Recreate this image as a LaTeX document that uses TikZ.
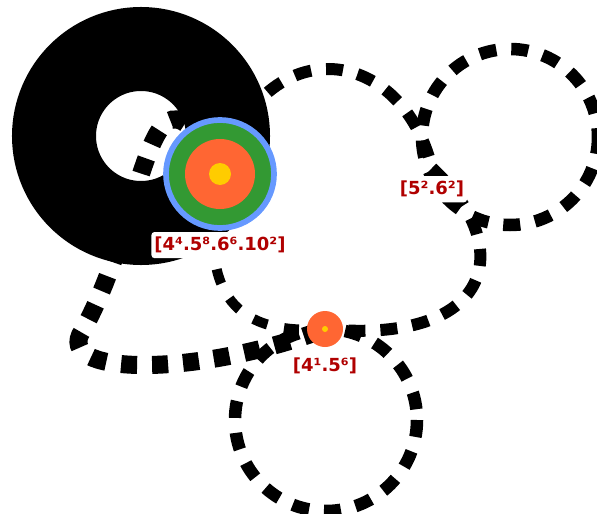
\documentclass[tikz,border=0pt]{standalone}
\usepackage{fontspec}
\newfontfamily\labelfont{DejaVu Sans}
\usetikzlibrary{positioning, backgrounds}

\definecolor{ringblue}{RGB}{102,153,255}
\definecolor{leafgreen}{RGB}{51,153,51}
\definecolor{hotorange}{RGB}{255,102,51}
\definecolor{sunyellow}{RGB}{255,204,0}
\definecolor{labelred}{RGB}{176,0,0}

\begin{document}
\begin{tikzpicture}[
  x=1pt, y=-1pt,
  edgeline/.style={line width=12pt, dash pattern=on 17pt off 15pt},
  thinedge/.style={line width=10pt, dash pattern=on 15pt off 17pt},
  thickedge/.style={line width=18pt, dash pattern=on 16pt off 15pt},
  loopline/.style={line width=12.5pt, dash pattern=on 17pt off 15pt},
  vertex/.style={circle, inner sep=0pt},
  vlabel/.style={fill=white, rounded corners=3pt, text=labelred, inner xsep=3pt, inner ysep=5pt,
    font=\labelfont\bfseries\fontsize{18}{21}\selectfont}
]
\useasboundingbox (0,0) rectangle (597,514);

% vertices
\node[vertex, fill=leafgreen, draw=ringblue, line width=5.7pt, minimum size=108pt] (big) at (220,174) {};
\fill[hotorange] (big.center) circle[radius=35];
\fill[sunyellow] (big.center) circle[radius=11];
\coordinate (mid) at (432,168);
\node[vertex, fill=hotorange, minimum size=36pt] (small) at (325,329) {};
\fill[sunyellow] (small.center) circle[radius=3];
\coordinate (bend) at (80,335);

% labels
\node[vlabel, below=1pt of big] (bigtxt) {[4⁴.5⁸.6⁶.10²]};
\node[vlabel, below=8pt of mid] (midtxt) {[5².6²]};
\node[vlabel, below=5pt of small] (smalltxt) {[4¹.5⁶]};

\begin{scope}[on background layer]
% loops
\draw[line width=84pt] (big.center) ++(-79,-38) circle[radius=87];
\draw[loopline] (mid) ++(78,-31) circle[radius=88];
\draw[loopline] (small.center) ++(1,91) circle[radius=91];
% edges
\draw[edgeline] (big.center) .. controls (260,30) and (400,40) .. (mid);
\draw[edgeline] (mid) .. controls (520,250) and (490,345) .. (small.center);
\draw[thinedge] (big.center) .. controls (195,300) and (240,335) .. (small.center);
\draw[thickedge] (big.center) .. controls (145,25) and (150,215) .. (bend)
  .. controls (62,376) and (200,376) .. (small.center);
\end{scope}
\end{tikzpicture}
\end{document}
